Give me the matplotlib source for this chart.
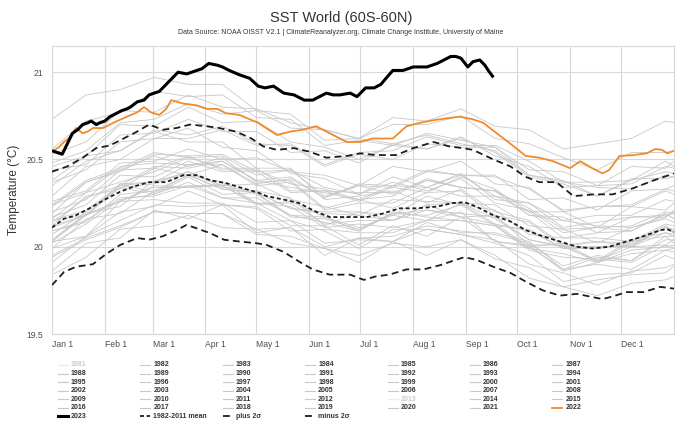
import matplotlib as mpl
mpl.use('Agg')
import matplotlib.pyplot as plt
from matplotlib.lines import Line2D

plt.rcParams['font.family'] = ['Liberation Sans', 'DejaVu Sans']

# day of year positions for the gray (past years) lines
gray_days = [0, 20, 40, 60, 80, 100, 120, 140, 160, 180, 200, 220, 240, 260, 280, 300, 320, 340, 360, 365]

y1982 = [19.86, 20.02, 20.05, 20.21, 20.16, 20.24, 20.08, 20.11, 19.95, 20.05, 20.03, 20.14, 20.08, 20.08, 20.03, 19.87, 19.94, 19.92, 20.06, 20.02]
y1983 = [20.02, 20.13, 20.27, 20.30, 20.37, 20.28, 20.25, 20.15, 20.09, 19.99, 20.10, 20.10, 20.07, 20.04, 19.90, 19.85, 19.78, 19.86, 19.88, 19.90]
y1984 = [19.95, 20.05, 20.12, 20.20, 20.19, 20.19, 20.07, 20.06, 19.99, 19.91, 20.03, 19.95, 20.04, 19.95, 19.82, 19.77, 19.72, 19.79, 19.81, 19.83]
y1985 = [19.84, 19.94, 20.10, 20.12, 20.18, 20.11, 20.10, 20.02, 19.99, 19.95, 20.02, 20.00, 20.04, 19.93, 19.88, 19.77, 19.81, 19.84, 19.85, 19.89]
y1986 = [19.94, 20.04, 20.11, 20.20, 20.19, 20.19, 20.10, 20.11, 20.00, 20.05, 20.06, 20.12, 20.09, 20.07, 20.02, 19.89, 19.95, 19.92, 20.04, 20.04]
y1987 = [20.03, 20.19, 20.23, 20.38, 20.41, 20.33, 20.31, 20.22, 20.20, 20.20, 20.18, 20.29, 20.24, 20.21, 20.07, 20.05, 20.05, 20.03, 20.13, 20.12]
y1988 = [20.15, 20.18, 20.36, 20.31, 20.41, 20.37, 20.25, 20.23, 20.11, 20.13, 20.11, 20.15, 20.20, 20.03, 20.00, 19.87, 19.90, 19.87, 19.98, 19.97]
y1989 = [19.91, 20.06, 20.15, 20.24, 20.23, 20.24, 20.22, 20.09, 20.10, 20.08, 20.08, 20.15, 20.15, 20.12, 19.99, 19.96, 19.91, 19.98, 20.00, 20.01]
y1990 = [20.09, 20.15, 20.28, 20.29, 20.35, 20.35, 20.24, 20.26, 20.17, 20.11, 20.18, 20.15, 20.25, 20.16, 20.04, 20.00, 19.92, 20.04, 20.08, 20.06]
y1991 = [20.04, 20.19, 20.26, 20.34, 20.34, 20.36, 20.30, 20.18, 20.17, 20.09, 20.20, 20.17, 20.15, 20.12, 19.98, 19.94, 19.93, 19.91, 20.01, 19.99]
y1992 = [20.03, 20.06, 20.26, 20.27, 20.25, 20.25, 20.14, 20.15, 20.02, 20.04, 20.03, 20.10, 20.07, 20.02, 19.95, 19.80, 19.84, 19.85, 19.95, 19.93]
y1993 = [19.99, 20.06, 20.20, 20.23, 20.32, 20.24, 20.23, 20.12, 20.12, 20.01, 20.12, 20.06, 20.17, 20.03, 20.01, 19.86, 19.91, 19.96, 19.98, 19.99]
y1994 = [19.99, 20.16, 20.19, 20.32, 20.35, 20.28, 20.28, 20.18, 20.14, 20.09, 20.19, 20.18, 20.24, 20.12, 20.10, 19.99, 19.99, 20.01, 20.11, 20.10]
y1995 = [20.15, 20.21, 20.35, 20.37, 20.43, 20.34, 20.32, 20.28, 20.12, 20.20, 20.15, 20.24, 20.17, 20.18, 20.01, 20.01, 19.91, 20.03, 20.06, 20.06]
y1996 = [20.03, 20.18, 20.26, 20.35, 20.34, 20.35, 20.25, 20.25, 20.13, 20.15, 20.15, 20.21, 20.19, 20.17, 20.04, 20.00, 20.00, 20.00, 20.08, 20.07]
y1997 = [20.11, 20.18, 20.36, 20.37, 20.47, 20.47, 20.36, 20.39, 20.28, 20.35, 20.34, 20.43, 20.41, 20.41, 20.27, 20.28, 20.21, 20.32, 20.33, 20.35]
y1998 = [20.38, 20.52, 20.55, 20.66, 20.60, 20.60, 20.45, 20.45, 20.27, 20.29, 20.32, 20.25, 20.33, 20.20, 20.15, 20.01, 20.03, 20.02, 20.12, 20.09]
y1999 = [20.07, 20.20, 20.34, 20.30, 20.40, 20.30, 20.31, 20.17, 20.16, 20.10, 20.19, 20.21, 20.17, 20.13, 20.00, 20.02, 19.92, 20.00, 20.01, 20.04]
y2000 = [20.09, 20.14, 20.30, 20.32, 20.41, 20.33, 20.31, 20.22, 20.19, 20.18, 20.15, 20.24, 20.25, 20.13, 20.09, 19.99, 20.00, 20.01, 20.11, 20.08]
y2001 = [20.12, 20.29, 20.33, 20.45, 20.41, 20.47, 20.35, 20.37, 20.21, 20.25, 20.25, 20.34, 20.29, 20.29, 20.20, 20.05, 20.08, 20.09, 20.19, 20.16]
y2002 = [20.20, 20.27, 20.44, 20.45, 20.52, 20.44, 20.44, 20.36, 20.33, 20.27, 20.35, 20.34, 20.41, 20.29, 20.25, 20.15, 20.18, 20.18, 20.27, 20.26]
y2003 = [20.24, 20.38, 20.45, 20.54, 20.51, 20.52, 20.41, 20.44, 20.34, 20.30, 20.40, 20.34, 20.42, 20.27, 20.25, 20.11, 20.14, 20.17, 20.17, 20.21]
y2004 = [20.24, 20.31, 20.46, 20.48, 20.47, 20.49, 20.38, 20.34, 20.31, 20.27, 20.29, 20.38, 20.34, 20.32, 20.18, 20.17, 20.08, 20.17, 20.18, 20.19]
y2005 = [20.19, 20.37, 20.43, 20.53, 20.52, 20.53, 20.43, 20.44, 20.29, 20.35, 20.30, 20.39, 20.34, 20.32, 20.22, 20.10, 20.11, 20.12, 20.20, 20.19]
y2006 = [20.17, 20.24, 20.41, 20.40, 20.49, 20.43, 20.43, 20.31, 20.32, 20.26, 20.34, 20.31, 20.40, 20.33, 20.20, 20.20, 20.11, 20.23, 20.21, 20.25]
y2007 = [20.23, 20.37, 20.44, 20.52, 20.46, 20.51, 20.37, 20.38, 20.22, 20.27, 20.22, 20.31, 20.32, 20.18, 20.14, 20.00, 20.03, 20.00, 20.11, 20.08]
y2008 = [20.12, 20.18, 20.34, 20.36, 20.43, 20.35, 20.36, 20.27, 20.23, 20.18, 20.27, 20.26, 20.25, 20.24, 20.12, 20.10, 20.02, 20.11, 20.16, 20.14]
y2009 = [20.14, 20.28, 20.35, 20.46, 20.45, 20.49, 20.38, 20.40, 20.28, 20.36, 20.35, 20.44, 20.41, 20.40, 20.33, 20.21, 20.23, 20.24, 20.33, 20.32]
y2010 = [20.37, 20.44, 20.60, 20.62, 20.68, 20.57, 20.55, 20.42, 20.39, 20.30, 20.37, 20.32, 20.39, 20.25, 20.21, 20.08, 20.11, 20.09, 20.19, 20.16]
y2011 = [20.16, 20.31, 20.37, 20.43, 20.51, 20.45, 20.45, 20.32, 20.32, 20.31, 20.31, 20.38, 20.34, 20.32, 20.18, 20.15, 20.12, 20.11, 20.17, 20.20]
y2012 = [20.26, 20.32, 20.48, 20.49, 20.56, 20.50, 20.51, 20.43, 20.41, 20.35, 20.46, 20.43, 20.49, 20.36, 20.34, 20.20, 20.23, 20.23, 20.32, 20.30]
y2014 = [20.29, 20.46, 20.50, 20.62, 20.62, 20.67, 20.58, 20.59, 20.47, 20.54, 20.55, 20.63, 20.58, 20.58, 20.49, 20.37, 20.37, 20.38, 20.49, 20.46]
y2015 = [20.48, 20.55, 20.71, 20.73, 20.82, 20.76, 20.78, 20.68, 20.67, 20.62, 20.74, 20.72, 20.79, 20.69, 20.67, 20.56, 20.59, 20.62, 20.72, 20.71]
y2016 = [20.73, 20.87, 20.90, 20.97, 20.93, 20.93, 20.78, 20.76, 20.61, 20.62, 20.59, 20.64, 20.59, 20.55, 20.41, 20.38, 20.29, 20.39, 20.39, 20.40]
y2017 = [20.46, 20.52, 20.70, 20.69, 20.80, 20.71, 20.72, 20.60, 20.57, 20.50, 20.58, 20.56, 20.62, 20.54, 20.40, 20.36, 20.29, 20.38, 20.43, 20.42]
y2018 = [20.35, 20.49, 20.55, 20.67, 20.64, 20.69, 20.59, 20.58, 20.46, 20.53, 20.50, 20.59, 20.57, 20.57, 20.44, 20.43, 20.35, 20.46, 20.45, 20.49]
y2019 = [20.53, 20.60, 20.78, 20.77, 20.87, 20.80, 20.79, 20.71, 20.67, 20.62, 20.70, 20.70, 20.75, 20.62, 20.59, 20.51, 20.44, 20.54, 20.54, 20.55]
y2020 = [20.56, 20.72, 20.77, 20.89, 20.86, 20.87, 20.74, 20.73, 20.58, 20.61, 20.58, 20.65, 20.61, 20.57, 20.41, 20.37, 20.34, 20.33, 20.41, 20.40]
y2021 = [20.44, 20.47, 20.64, 20.65, 20.73, 20.66, 20.66, 20.54, 20.55, 20.48, 20.59, 20.56, 20.63, 20.52, 20.46, 20.34, 20.35, 20.36, 20.46, 20.45]

gray_years = {1982: y1982, 1983: y1983, 1984: y1984, 1985: y1985, 1986: y1986, 1987: y1987,
              1988: y1988, 1989: y1989, 1990: y1990, 1991: y1991, 1992: y1992, 1993: y1993,
              1994: y1994, 1995: y1995, 1996: y1996, 1997: y1997, 1998: y1998, 1999: y1999,
              2000: y2000, 2001: y2001, 2002: y2002, 2003: y2003, 2004: y2004, 2005: y2005,
              2006: y2006, 2007: y2007, 2008: y2008, 2009: y2009, 2010: y2010, 2011: y2011,
              2012: y2012, 2014: y2014, 2015: y2015, 2016: y2016, 2017: y2017, 2018: y2018,
              2019: y2019, 2020: y2020, 2021: y2021}

days_2022 = [0, 4, 7, 11, 14, 18, 21, 24, 30, 36, 44, 50, 54, 58, 63, 67, 70, 77, 85, 91, 97, 102, 110, 116, 121,
             124, 132, 140, 147, 155, 163, 173, 181, 188, 200, 208, 216, 224, 231, 239, 247, 253, 261, 269, 278,
             286, 294, 304, 310, 317, 323, 327, 333, 341, 349, 354, 358, 361, 365]
sst_2022 = [20.545, 20.57, 20.60, 20.63, 20.68, 20.65, 20.66, 20.68, 20.68, 20.71, 20.745, 20.77, 20.80, 20.77,
            20.755, 20.79, 20.84, 20.82, 20.81, 20.79, 20.79, 20.765, 20.755, 20.73, 20.71, 20.69, 20.64, 20.66,
            20.67, 20.69, 20.65, 20.60, 20.60, 20.62, 20.62, 20.69, 20.71, 20.725, 20.735, 20.745, 20.73, 20.71,
            20.65, 20.59, 20.52, 20.51, 20.49, 20.45, 20.49, 20.45, 20.42, 20.44, 20.52, 20.525, 20.535, 20.56,
            20.555, 20.535, 20.55]

days_2023 = [0, 3, 6, 9, 12, 15, 18, 21, 23, 26, 28, 31, 34, 37, 41, 44, 46, 50, 54, 57, 63, 66, 69, 74, 79,
             85, 88, 92, 97, 100, 104, 110, 116, 121, 125, 130, 136, 142, 148, 153, 157, 161, 165, 169, 175,
             179, 184, 189, 193, 196, 200, 206, 212, 220, 226, 230, 234, 237, 240, 244, 247, 251, 254, 256, 259]
sst_2023 = [20.55, 20.54, 20.53, 20.59, 20.65, 20.67, 20.70, 20.71, 20.72, 20.70, 20.71, 20.72, 20.745, 20.76,
            20.78, 20.79, 20.80, 20.83, 20.84, 20.87, 20.89, 20.92, 20.95, 21.00, 20.99, 21.01, 21.02, 21.05,
            21.04, 21.03, 21.01, 20.985, 20.965, 20.92, 20.91, 20.92, 20.88, 20.87, 20.84, 20.84, 20.86, 20.88,
            20.87, 20.87, 20.88, 20.86, 20.91, 20.91, 20.93, 20.965, 21.01, 21.01, 21.03, 21.03, 21.05, 21.07,
            21.09, 21.09, 21.08, 21.03, 21.06, 21.07, 21.04, 21.01, 20.97]

days_mean = [0, 7, 14, 22, 31, 40, 48, 57, 67, 77, 85, 93, 102, 112, 121, 126, 136, 145, 155, 163, 175, 185,
             194, 204, 214, 226, 235, 242, 249, 259, 269, 278, 288, 298, 308, 317, 327, 337, 347, 357, 361, 365]
sst_mean = [20.11, 20.16, 20.18, 20.22, 20.27, 20.315, 20.345, 20.37, 20.37, 20.41, 20.41, 20.38, 20.365,
            20.335, 20.31, 20.29, 20.27, 20.25, 20.20, 20.17, 20.17, 20.17, 20.19, 20.22, 20.22, 20.23, 20.25,
            20.255, 20.23, 20.18, 20.145, 20.095, 20.06, 20.03, 20.00, 19.99, 20.00, 20.03, 20.06, 20.095,
            20.10, 20.085]

days_plus = [0, 9, 18, 26, 34, 42, 50, 57, 65, 73, 81, 91, 98, 108, 117, 124, 132, 142, 151, 161, 173, 181,
             190, 202, 212, 224, 233, 241, 247, 259, 269, 278, 286, 296, 306, 318, 329, 341, 353, 365]
sst_plus = [20.43, 20.46, 20.51, 20.565, 20.58, 20.62, 20.66, 20.70, 20.67, 20.68, 20.70, 20.69, 20.68, 20.66,
            20.62, 20.575, 20.555, 20.565, 20.545, 20.51, 20.52, 20.535, 20.525, 20.525, 20.565, 20.60, 20.575,
            20.565, 20.555, 20.50, 20.46, 20.40, 20.37, 20.37, 20.29, 20.30, 20.30, 20.335, 20.38, 20.42]

days_minus = [0, 7, 14, 24, 32, 40, 50, 57, 65, 73, 79, 85, 93, 101, 110, 120, 126, 136, 145, 153, 163, 175,
              183, 190, 198, 208, 218, 228, 237, 242, 249, 259, 269, 278, 288, 298, 308, 318, 323, 329, 337,
              347, 357, 365]
sst_minus = [19.78, 19.855, 19.885, 19.90, 19.96, 20.01, 20.05, 20.04, 20.06, 20.095, 20.125, 20.105, 20.077,
             20.04, 20.03, 20.02, 20.01, 19.97, 19.915, 19.87, 19.84, 19.84, 19.81, 19.83, 19.84, 19.87, 19.87,
             19.895, 19.925, 19.94, 19.925, 19.885, 19.85, 19.80, 19.75, 19.72, 19.73, 19.71, 19.70, 19.715,
             19.74, 19.74, 19.77, 19.76]

month_days = [0, 31, 59, 90, 120, 151, 181, 212, 243, 273, 304, 334]
month_labels = ['Jan 1', 'Feb 1', 'Mar 1', 'Apr 1', 'May 1', 'Jun 1', 'Jul 1', 'Aug 1', 'Sep 1', 'Oct 1', 'Nov 1', 'Dec 1']
y_ticks = [19.5, 20, 20.5, 21]
y_labels = ['19.5', '20', '20.5', '21']

legend_labels = [str(y) for y in range(1981, 2024)] + ['1982-2011 mean', 'plus 2σ', 'minus 2σ']
hidden = ['1981', '2013']

W, H = 680, 433
fig = plt.figure(figsize=(W / 100, H / 100), dpi=100)
ax = fig.add_axes([52 / W, 1 - 334 / H, (674 - 52) / W, (334 - 46) / H])

gray_c = '#c8c8c8'
dash_c = '#1e1e1e'
orange = '#f08a2c'
mean_dash = (2.2, 1.5)
sig_dash = (3.8, 2.4)

for yr, vals in gray_years.items():
    ax.plot(gray_days, vals, color=gray_c, lw=0.6, zorder=2)
ax.plot(days_minus, sst_minus, color=dash_c, lw=1.3, dashes=sig_dash, zorder=3)
ax.plot(days_plus, sst_plus, color=dash_c, lw=1.3, dashes=sig_dash, zorder=3)
ax.plot(days_mean, sst_mean, color=dash_c, lw=1.3, dashes=mean_dash, zorder=3)
ax.plot(days_2022, sst_2022, color=orange, lw=1.3, zorder=4)
ax.plot(days_2023, sst_2023, color='black', lw=2.2, zorder=5, solid_capstyle='butt')

ax.set_xlim(0, 365)
ax.set_ylim(19.5, 21.15)
ax.set_xticks(month_days)
ax.set_xticklabels(month_labels, ha='left')
ax.set_yticks(y_ticks)
ax.set_yticklabels(y_labels)
ax.tick_params(axis='both', length=0, labelsize=6.2, colors='#4d4d4d')
ax.tick_params(axis='y', pad=6.5)
ax.tick_params(axis='x', pad=4)
ax.grid(True, color='#d8d8d8', lw=0.8, zorder=0)
for s in ax.spines.values():
    s.set_color('#d8d8d8')
    s.set_linewidth(0.8)

fig.text(14 / W, 1 - 190 / H, 'Temperature (°C)', rotation=90, ha='center', va='center',
         fontsize=8.5, color='#333333')
fig.text(341 / W, 1 - 18 / H, 'SST World (60S-60N)', ha='center', va='center', fontsize=10.5, color='#333333')
fig.text(341 / W, 1 - 33 / H,
         'Data Source: NOAA OISST V2.1 | ClimateReanalyzer.org, Climate Change Institute, University of Maine',
         ha='center', va='center', fontsize=5, color='#333333')

# legend laid out row by row, 7 columns
for i, lab in enumerate(legend_labels):
    row, col = divmod(i, 7)
    tx = 71 + 82.4 * col
    ty = 365 + 8.55 * row
    kw = dict(color=gray_c, lw=0.8)
    tcol = '#333333'
    if lab in hidden:
        kw = dict(color='#e8e8e8', lw=0.8)
        tcol = '#cccccc'
    elif lab == '2022':
        kw = dict(color=orange, lw=1.3)
    elif lab == '2023':
        kw = dict(color='black', lw=2.2)
    elif lab == '1982-2011 mean':
        kw = dict(color=dash_c, lw=1.3, dashes=mean_dash)
    elif lab.startswith('plus') or lab.startswith('minus'):
        kw = dict(color=dash_c, lw=1.3, dashes=sig_dash)
    fig.add_artist(Line2D([(tx - 13) / W, (tx - 3) / W], [1 - ty / H, 1 - ty / H], **kw))
    fig.text(tx / W, 1 - ty / H, lab, ha='left', va='center', fontsize=5, fontweight='bold', color=tcol)

fig.savefig('out.png', dpi=100)
